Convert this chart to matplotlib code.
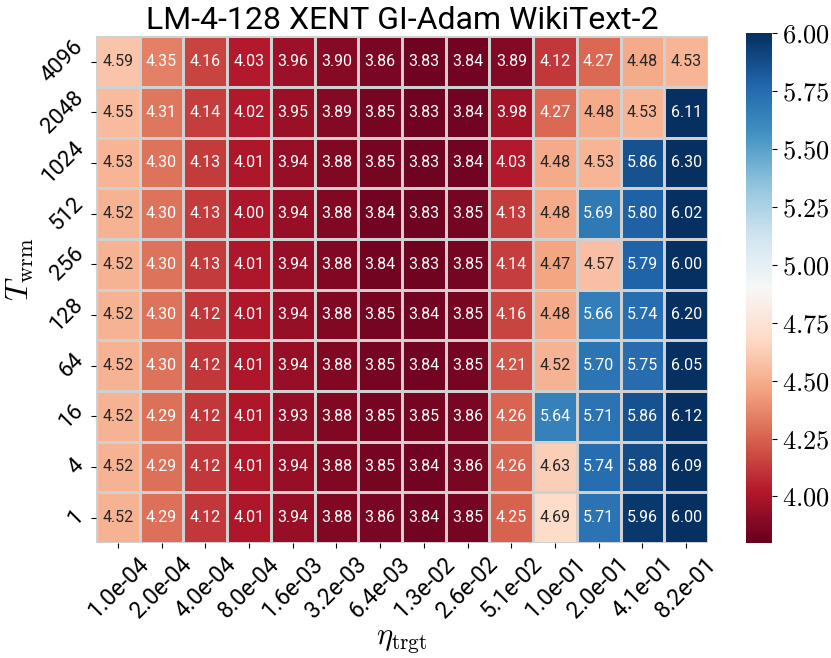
import matplotlib
matplotlib.use("Agg")
import matplotlib.pyplot as plt
import seaborn as sns
import numpy as np
import pandas as pd
from matplotlib.ticker import FixedLocator, FuncFormatter

plt.rcParams['mathtext.fontset'] = 'cm'
plt.rcParams['font.family'] = ['Roboto', 'DejaVu Sans']

eta_labels = ["1.0e-04", "2.0e-04", "4.0e-04", "8.0e-04", "1.6e-03", "3.2e-03", "6.4e-03",
              "1.3e-02", "2.6e-02", "5.1e-02", "1.0e-01", "2.0e-01", "4.1e-01", "8.2e-01"]
twrm_labels = ["4096", "2048", "1024", "512", "256", "128", "64", "16", "4", "1"]

row_4096 = [4.59, 4.35, 4.16, 4.03, 3.96, 3.90, 3.86, 3.83, 3.84, 3.89, 4.12, 4.27, 4.48, 4.53]
row_2048 = [4.55, 4.31, 4.14, 4.02, 3.95, 3.89, 3.85, 3.83, 3.84, 3.98, 4.27, 4.48, 4.53, 6.11]
row_1024 = [4.53, 4.30, 4.13, 4.01, 3.94, 3.88, 3.85, 3.83, 3.84, 4.03, 4.48, 4.53, 5.86, 6.30]
row_512 = [4.52, 4.30, 4.13, 4.00, 3.94, 3.88, 3.84, 3.83, 3.85, 4.13, 4.48, 5.69, 5.80, 6.02]
row_256 = [4.52, 4.30, 4.13, 4.01, 3.94, 3.88, 3.84, 3.83, 3.85, 4.14, 4.47, 4.57, 5.79, 6.00]
row_128 = [4.52, 4.30, 4.12, 4.01, 3.94, 3.88, 3.85, 3.84, 3.85, 4.16, 4.48, 5.66, 5.74, 6.20]
row_64 = [4.52, 4.30, 4.12, 4.01, 3.94, 3.88, 3.85, 3.84, 3.85, 4.21, 4.52, 5.70, 5.75, 6.05]
row_16 = [4.52, 4.29, 4.12, 4.01, 3.93, 3.88, 3.85, 3.85, 3.86, 4.26, 5.64, 5.71, 5.86, 6.12]
row_4 = [4.52, 4.29, 4.12, 4.01, 3.94, 3.88, 3.85, 3.84, 3.86, 4.26, 4.63, 5.74, 5.88, 6.09]
row_1 = [4.52, 4.29, 4.12, 4.01, 3.94, 3.88, 3.86, 3.84, 3.85, 4.25, 4.69, 5.71, 5.96, 6.00]

data = pd.DataFrame([row_4096, row_2048, row_1024, row_512, row_256, row_128,
                     row_64, row_16, row_4, row_1],
                    index=twrm_labels, columns=eta_labels)

fig = plt.figure(figsize=(8.31, 6.58), dpi=100)
ax = fig.add_axes([0.1155, 0.175, 0.7365, 0.770])
cax = fig.add_axes([0.898, 0.175, 0.031, 0.775])

sns.heatmap(data, ax=ax, cbar_ax=cax, cmap="RdBu", vmin=3.80, vmax=6.00,
            annot=True, fmt=".2f", annot_kws={"fontsize": 11.5},
            linewidths=0.9, linecolor="#d0d0d0")

ax.set_title("LM-4-128 XENT GI-Adam WikiText-2", fontsize=23, pad=5)
ax.set_xticklabels(eta_labels, rotation=45, fontsize=16.5, ha='center')
ax.set_yticklabels(twrm_labels, rotation=45, fontsize=16, va='center')
ax.tick_params(axis='y', pad=2.5)
ax.set_xlabel(r"$\eta_{\rm trgt}$", fontsize=22)
ax.set_ylabel(r"$T_{\rm wrm}$", fontsize=23)
ax.xaxis.set_label_coords(0.5, -0.165)
ax.yaxis.set_label_coords(-0.098, 0.54)

ticks = [4.00, 4.25, 4.50, 4.75, 5.00, 5.25, 5.50, 5.75, 6.00]
cax.yaxis.set_major_locator(FixedLocator(ticks))
cax.yaxis.set_major_formatter(FuncFormatter(lambda v, p: r"$%.2f$" % v))
cax.tick_params(labelsize=19)

fig.savefig("out.png", dpi=100)
